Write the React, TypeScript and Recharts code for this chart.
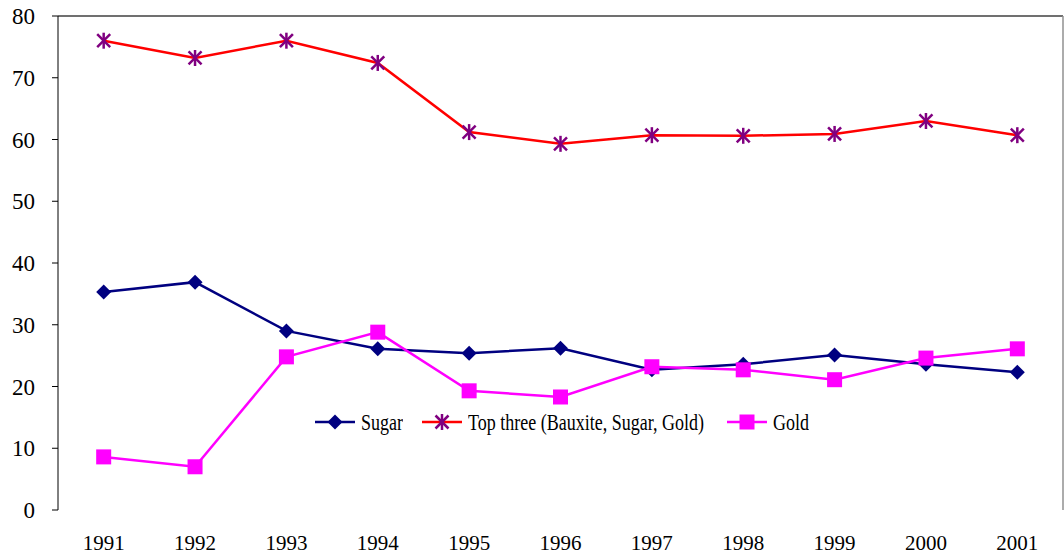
import { LineChart, Line, XAxis, YAxis, ReferenceLine } from 'recharts'

const years = ['1991', '1992', '1993', '1994', '1995', '1996', '1997', '1998', '1999', '2000', '2001']
const sugar = [35.3, 36.9, 29.0, 26.1, 25.4, 26.2, 22.7, 23.6, 25.1, 23.6, 22.3]
const topThree = [76.0, 73.2, 76.0, 72.4, 61.2, 59.3, 60.7, 60.6, 60.9, 63.0, 60.7]
const gold = [8.6, 7.0, 24.8, 28.8, 19.3, 18.3, 23.2, 22.7, 21.1, 24.6, 26.1]
const yTicks = [0, 10, 20, 30, 40, 50, 60, 70, 80]

const NAVY = '#000080'
const RED = '#FF0000'
const PURPLE = '#800080'
const MAGENTA = '#FF00FF'
const FONT = '"Liberation Serif", "Times New Roman", serif'

// each category sits in the middle of its band, ticks fall on band edges
const data = years.map((year, i) => ({
  pos: i + 0.5,
  year,
  sugar: sugar[i],
  topThree: topThree[i],
  gold: gold[i],
}))
const boundaryTicks = years.map((_, i) => i).concat(years.length)
const centerTicks = data.map((d) => d.pos)

function Diamond({ cx, cy }: any) {
  if (cx == null || cy == null) return null
  const r = 7.5
  return <path d={`M${cx},${cy - r}L${cx + r},${cy}L${cx},${cy + r}L${cx - r},${cy}Z`} fill={NAVY} />
}

function Square({ cx, cy }: any) {
  if (cx == null || cy == null) return null
  const s = 15
  return <rect x={cx - s / 2} y={cy - s / 2} width={s} height={s} fill={MAGENTA} />
}

function Star({ cx, cy }: any) {
  if (cx == null || cy == null) return null
  const r = 8
  const d = 6.5
  return (
    <g stroke={PURPLE} strokeWidth={2.5}>
      <line x1={cx} y1={cy - r} x2={cx} y2={cy + r} />
      <line x1={cx - d} y1={cy - d} x2={cx + d} y2={cy + d} />
      <line x1={cx - d} y1={cy + d} x2={cx + d} y2={cy - d} />
    </g>
  )
}

// legend text in the original is horizontally squeezed
const legendItems = [
  { name: 'Sugar', color: NAVY, Marker: Diamond, left: 315 },
  { name: 'Top three (Bauxite, Sugar, Gold)', color: RED, Marker: Star, left: 422 },
  { name: 'Gold', color: MAGENTA, Marker: Square, left: 727 },
]

function ChartLegend() {
  return (
    <>
      {legendItems.map(({ name, color, Marker, left }) => (
        <div
          key={name}
          style={{
            position: 'absolute',
            left,
            top: 409,
            height: 26,
            display: 'flex',
            alignItems: 'center',
            fontFamily: FONT,
            fontSize: 24,
            color: '#000',
            whiteSpace: 'nowrap',
          }}
        >
          <svg width={40} height={26}>
            <line x1={0} y1={13} x2={40} y2={13} stroke={color} strokeWidth={2.5} />
            <Marker cx={20} cy={13} />
          </svg>
          <span style={{ marginLeft: 6, display: 'inline-block', transform: 'scaleX(0.75)', transformOrigin: 'left center' }}>
            {name}
          </span>
        </div>
      ))}
    </>
  )
}

export default function App() {
  return (
    <div style={{ position: 'absolute', left: 0, top: 0, width: 1064, height: 556, background: '#fff' }}>
      <LineChart width={1064} height={556} data={data} margin={{ top: 16, right: 1, bottom: 0, left: 0 }}>
        <XAxis
          xAxisId="main"
          dataKey="pos"
          type="number"
          domain={[0, years.length]}
          ticks={boundaryTicks}
          tick={false}
          tickSize={6}
          height={0}
          stroke="#000"
        />
        <XAxis
          xAxisId="labels"
          dataKey="pos"
          type="number"
          domain={[0, years.length]}
          ticks={centerTicks}
          tickFormatter={(v: number) => years[Math.round(v - 0.5)]}
          axisLine={false}
          tickLine={false}
          tickMargin={19}
          height={46}
          tick={{ fontSize: 21, fontFamily: FONT, fill: '#000' }}
        />
        <YAxis
          domain={[0, 80]}
          ticks={yTicks}
          width={58}
          tickSize={6}
          tickMargin={17}
          stroke="#000"
          tick={{ fontSize: 23, fontFamily: FONT, fill: '#000' }}
        />
        <ReferenceLine xAxisId="main" y={80} stroke="#404040" strokeWidth={1.5} />
        <ReferenceLine xAxisId="main" x={years.length} stroke="#909090" strokeWidth={1.5} />
        <Line
          xAxisId="main"
          type="linear"
          dataKey="sugar"
          stroke={NAVY}
          strokeWidth={2.5}
          dot={<Diamond />}
          activeDot={false}
          isAnimationActive={false}
        />
        <Line
          xAxisId="main"
          type="linear"
          dataKey="topThree"
          stroke={RED}
          strokeWidth={2.5}
          dot={<Star />}
          activeDot={false}
          isAnimationActive={false}
        />
        <Line
          xAxisId="main"
          type="linear"
          dataKey="gold"
          stroke={MAGENTA}
          strokeWidth={2.5}
          dot={<Square />}
          activeDot={false}
          isAnimationActive={false}
        />
      </LineChart>
      <ChartLegend />
    </div>
  )
}
